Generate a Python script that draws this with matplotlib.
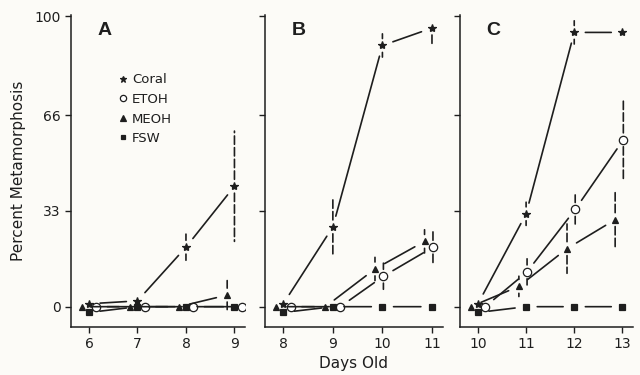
import numpy as np
import matplotlib.pyplot as plt

# days old for each panel
days_a = [6, 7, 8, 9]
days_b = [8, 9, 10, 11]
days_c = [10, 11, 12, 13]

# percent metamorphosis (mean) and error half-widths
coral_a = [1, 2, 20.5, 41.5]
coral_a_err = [0, 0, 4.5, 19]
etoh_a = [0, 0, 0, 0]
etoh_a_err = [0, 0, 0, 0]
meoh_a = [0, 0, 0, 4]
meoh_a_err = [0, 0, 0, 5]
fsw_a = [-2, 0, 0, 0]

coral_b = [1, 27.5, 90, 96]
coral_b_err = [0, 10, 4, 6]
etoh_b = [0, 0, 10.5, 20.5]
etoh_b_err = [0, 0, 4.5, 6]
meoh_b = [0, 0, 13, 22.5]
meoh_b_err = [0, 0, 4, 4]
fsw_b = [-2, 0, 0, 0]

coral_c = [1, 32, 94.5, 94.5]
coral_c_err = [0, 4, 4, 0]
etoh_c = [0, 12, 33.5, 57.5]
etoh_c_err = [0, 4.5, 5, 14]
meoh_c = [0, 7, 20, 30]
meoh_c_err = [0, 3.5, 8.5, 10]
fsw_c = [-2, 0, 0, 0]

panels = ['A', 'B', 'C']
yticks = [0, 33, 66, 100]

ink = '#1e1e1e'
bg = '#fcfbf7'
styles = {
    'Coral': dict(marker='*', ms=6, mfc=ink, dx=0.0),
    'ETOH': dict(marker='o', ms=6, mfc='white', dx=0.15),
    'MEOH': dict(marker='^', ms=5, mfc=ink, dx=-0.15),
    'FSW': dict(marker='s', ms=4.5, mfc=ink, dx=0.0),
}

data = [
    (days_a, [('Coral', coral_a, coral_a_err), ('ETOH', etoh_a, etoh_a_err),
              ('MEOH', meoh_a, meoh_a_err), ('FSW', fsw_a, None)]),
    (days_b, [('Coral', coral_b, coral_b_err), ('ETOH', etoh_b, etoh_b_err),
              ('MEOH', meoh_b, meoh_b_err), ('FSW', fsw_b, None)]),
    (days_c, [('Coral', coral_c, coral_c_err), ('ETOH', etoh_c, etoh_c_err),
              ('MEOH', meoh_c, meoh_c_err), ('FSW', fsw_c, None)]),
]

plt.rcParams['font.family'] = ['DejaVu Sans']

fig = plt.figure(figsize=(6.4, 3.75), dpi=100, facecolor=bg)
lefts = [0.111, 0.414, 0.719]
widths = [0.272, 0.278, 0.270]


def seg(ax, p0, p1, sa, sb, ls='-'):
    ax.annotate('', xy=p1, xytext=p0,
                arrowprops=dict(arrowstyle='-', color=ink, lw=1.2,
                                shrinkA=sa, shrinkB=sb, linestyle=ls))


for i, (days, series) in enumerate(data):
    ax = fig.add_axes([lefts[i], 0.128, widths[i], 0.832])
    ax.set_facecolor(bg)
    for name, vals, errs in series:
        st = styles[name]
        xs = []
        for d, v in zip(days, vals):
            dx = st['dx']
            if name == 'ETOH' and abs(v) > 1:
                dx = 0.02
            xs.append(d + dx)
        # connecting lines with gaps at the markers
        for j in range(len(xs) - 1):
            seg(ax, (xs[j], vals[j]), (xs[j + 1], vals[j + 1]), 8, 8)
        # error bars
        if errs is not None:
            for x, v, e in zip(xs, vals, errs):
                if e > 0:
                    seg(ax, (x, v), (x, v + e), 5, 0, ls=(0, (5, 2)))
                    seg(ax, (x, v), (x, v - e), 5, 0, ls=(0, (5, 2)))
        ax.plot(xs, vals, ls='none', marker=st['marker'], ms=st['ms'],
                mfc=st['mfc'], mec=ink, mew=0.9, label=name, zorder=3)

    ax.set_xlim(days[0] - 0.37, days[-1] + 0.22)
    ax.set_ylim(-7, 100.5)
    ax.set_xticks(days)
    ax.set_yticks(yticks)
    ax.spines['top'].set_visible(False)
    ax.spines['right'].set_visible(False)
    for s in ['left', 'bottom']:
        ax.spines[s].set_color(ink)
        ax.spines[s].set_linewidth(1.1)
    ax.tick_params(colors=ink, labelsize=10, width=1, length=4, direction='out')
    if i > 0:
        ax.set_yticklabels([])
    ax.text(0.15, 0.95, panels[i], transform=ax.transAxes, fontsize=14,
            fontweight='bold', color=ink, va='center', ha='left',
            family='Liberation Sans')
    if i == 0:
        ax.set_ylabel('Percent Metamorphosis', fontsize=11, color=ink, labelpad=6)
        leg = ax.legend(loc='upper left', bbox_to_anchor=(0.23, 0.83), frameon=False,
                        fontsize=9.5, handletextpad=0.2, labelspacing=0.5,
                        handlelength=1.0, borderaxespad=0, markerscale=0.75)
        for t in leg.get_texts():
            t.set_color(ink)
    if i == 1:
        ax.set_xlabel('Days Old', fontsize=11, color=ink, labelpad=3)

fig.savefig('out.png', dpi=100, facecolor=bg)
